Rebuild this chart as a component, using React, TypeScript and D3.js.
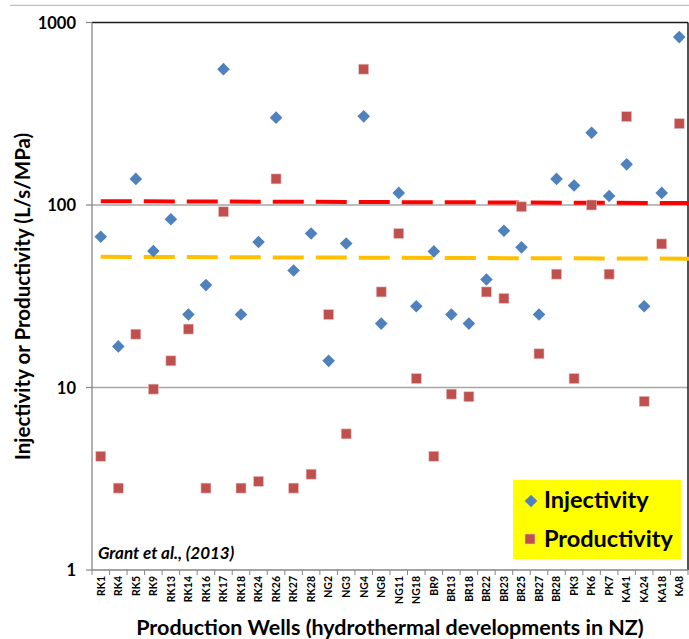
import React from "react";
import * as d3 from "d3";

const wells = ["RK1","RK4","RK5","RK9","RK13","RK14","RK16","RK17","RK18","RK24","RK26","RK27","RK28","NG2","NG3","NG4","NG8","NG11","NG18","BR9","BR13","BR18","BR22","BR23","BR25","BR27","BR28","PK3","PK6","PK7","KA41","KA24","KA18","KA8"];
const injectivity = [67,16.8,139,56,83.5,25.1,36.4,555,25.1,62.7,301,43.8,69.8,14,61.5,306,22.4,116.5,27.9,55.7,25.1,22.4,39.1,72.2,58.6,25.1,139,128,249,112,167,27.9,116.5,832];
const productivity = [4.2,2.81,19.6,9.8,14,20.9,2.81,91.8,2.81,3.06,139,2.81,3.35,25.1,5.57,555,33.4,69.8,11.2,4.2,9.2,8.9,33.4,30.8,97.8,15.3,41.8,11.2,100,41.8,305,8.4,61.2,279];
const redLine = [105, 102.5];
const yellowLine = [52, 50.8];
const yTicks = [1, 10, 100, 1000];

const W = 689, H = 639;
const M = { left: 92, right: 688, top: 22.5, bottom: 570 };
const FONT = "Lato, 'Open Sans', sans-serif";

export default function App() {
  const x = d3.scaleBand<string>().domain(wells).range([M.left, M.right]).padding(0);
  const y = d3.scaleLog().domain([1, 1000]).range([M.bottom, M.top]);
  const cx = (w: string) => (x(w) as number) + x.bandwidth() / 2;
  const x0 = cx(wells[0]);
  const xEnd = W;
  const lerp = (arr: number[], xp: number) => {
    const t = (xp - x0) / (cx(wells[wells.length - 1]) - x0);
    return Math.exp(Math.log(arr[0]) + t * (Math.log(arr[1]) - Math.log(arr[0])));
  };
  const dia = (px: number, py: number, key: string) => {
    const r = 6.3;
    return <path key={key} d={`M${px},${py - r}L${px + r},${py}L${px},${py + r}L${px - r},${py}Z`} fill="#4F81BD" />;
  };
  const sq = (px: number, py: number, key: string) => (
    <rect key={key} x={px - 5} y={py - 5} width={10} height={10} fill="#C0504D" stroke="#E8C6C5" strokeWidth={0.6} />
  );

  return (
    <svg width={W} height={H} style={{ position: "absolute", left: 0, top: 0, background: "#fff" }} fontFamily={FONT}>
      <line x1={10} x2={W} y1={5.3} y2={5.3} stroke="#BFBFBF" strokeWidth={1.2} />
      {[10, 100].map((t) => (
        <line key={t} x1={M.left} x2={M.right} y1={y(t)} y2={y(t)} stroke="#A6A6A6" strokeWidth={1.3} />
      ))}
      <line x1={M.left} x2={M.right} y1={M.top} y2={M.top} stroke="#1a1a1a" strokeWidth={1.5} />
      <line x1={M.right} x2={M.right} y1={M.top} y2={M.bottom} stroke="#1a1a1a" strokeWidth={1.5} />
      <line x1={M.left} x2={M.left} y1={M.top} y2={M.bottom} stroke="#868686" strokeWidth={1.3} />
      <line x1={M.left} x2={M.right} y1={M.bottom} y2={M.bottom} stroke="#868686" strokeWidth={1.3} />
      {yTicks.map((t) => (
        <g key={t}>
          <line x1={M.left - 6} x2={M.left} y1={y(t)} y2={y(t)} stroke="#868686" strokeWidth={1.2} />
          <text x={76} y={y(t) + 6} textAnchor="end" fontSize={16.5} fontWeight="bold" fill="#000">{t}</text>
        </g>
      ))}
      {wells.map((w) => (
        <line key={"t" + w} x1={x(w) as number} x2={x(w) as number} y1={M.bottom} y2={M.bottom + 5} stroke="#868686" strokeWidth={1} />
      ))}
      <line x1={M.right} x2={M.right} y1={M.bottom} y2={M.bottom + 5} stroke="#868686" strokeWidth={1} />
      {wells.map((w) => (
        <text key={"l" + w} transform={`translate(${cx(w) + 3.8},${M.bottom + 6}) rotate(-90)`} textAnchor="end" fontSize={10.5} fontWeight="bold" fill="#000">{w}</text>
      ))}
      <line x1={x0} x2={xEnd} y1={y(redLine[0])} y2={y(lerp(redLine, xEnd))} stroke="#FF0000" strokeWidth={4} strokeDasharray="31 12" />
      <line x1={x0} x2={xEnd} y1={y(yellowLine[0])} y2={y(lerp(yellowLine, xEnd))} stroke="#FFC000" strokeWidth={4} strokeDasharray="31 12" />
      {wells.map((w, i) => sq(cx(w), y(productivity[i]), "p" + w))}
      {wells.map((w, i) => dia(cx(w), y(injectivity[i]), "i" + w))}
      <text x={98} y={559.3} fontSize={17} fontWeight="bold" fontStyle="italic" fill="#000">Grant et al., (2013)</text>
      <rect x={513} y={480} width={168} height={79} fill="#FFFF00" />
      {dia(531, 501, "legd")}
      {sq(530, 539, "legs")}
      <text x={544} y={508.3} fontSize={23.5} fontWeight="bold" fill="#000">Injectivity</text>
      <text x={544} y={546.7} fontSize={23.5} fontWeight="bold" fill="#000">Productivity</text>
      <text transform={`translate(29.5,296.5) rotate(-90)`} textAnchor="middle" fontSize={20.5} fontWeight="bold" fill="#000">Injectivity or Productivity (L/s/MPa)</text>
      <text x={390} y={635} textAnchor="middle" fontSize={21.5} fontWeight="bold" fill="#000">Production Wells (hydrothermal developments in NZ)</text>
    </svg>
  );
}
